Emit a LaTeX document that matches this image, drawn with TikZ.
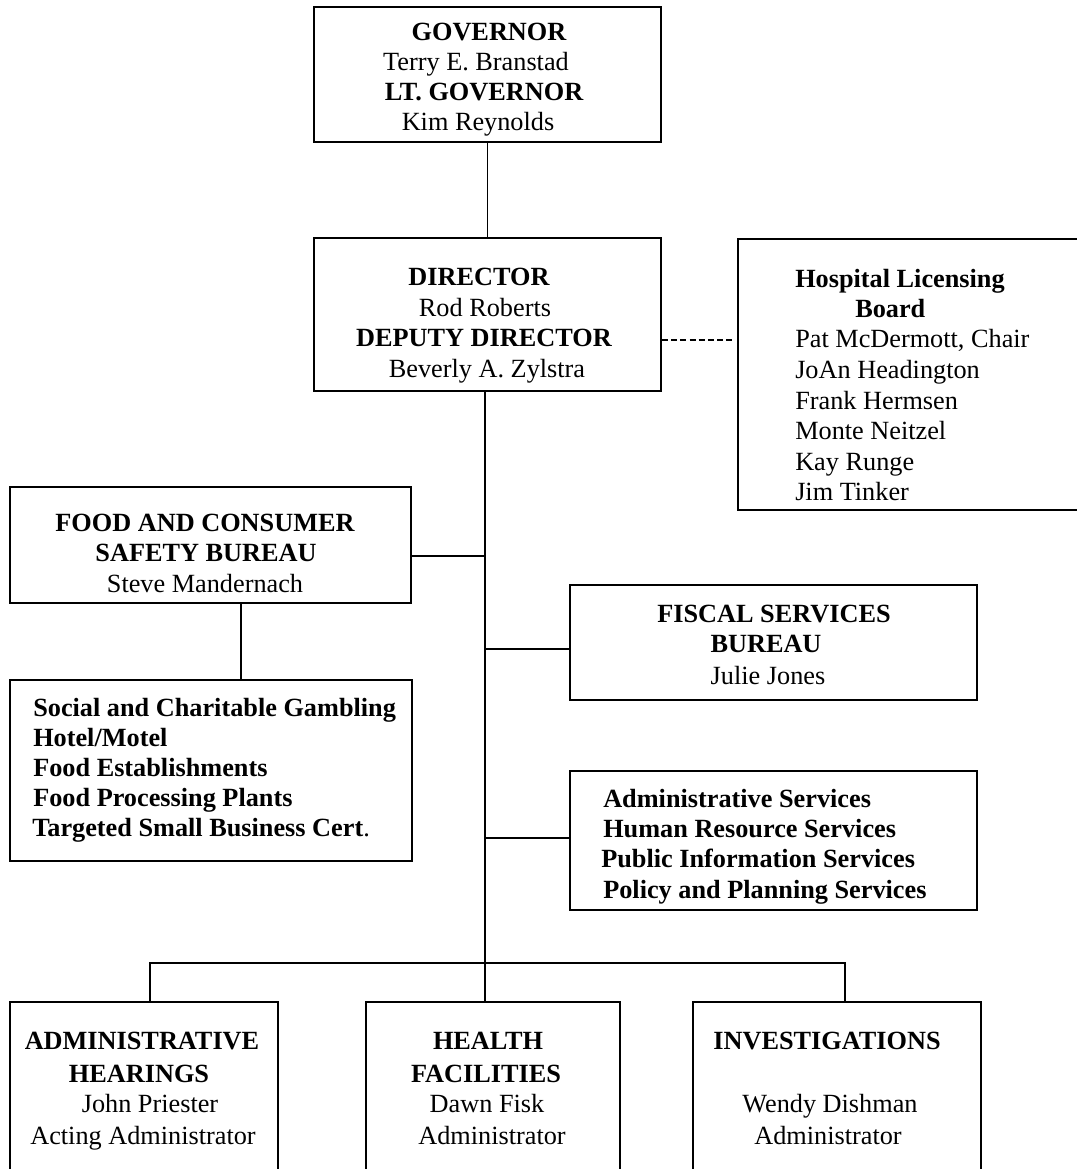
\documentclass[tikz,border=0pt]{standalone}
\usepackage{fontspec}
\setmainfont{Liberation Serif}
\usetikzlibrary{fit}
\newcommand\chartfont{\fontsize{19.7pt}{22.5pt}\selectfont}
\tikzset{
  box/.style={draw, line width=1.4pt, inner sep=0pt},
  conn/.style={line width=1.3pt},
  dashconn/.style={line width=1.8pt, dash pattern=on 4.5pt off 2.4pt},
  tc/.style={anchor=base, inner sep=0pt, font=\chartfont},
  tcb/.style={anchor=base, inner sep=0pt, font=\chartfont\bfseries},
  tl/.style={anchor=base west, inner sep=0pt, font=\chartfont},
  tlb/.style={anchor=base west, inner sep=0pt, font=\chartfont\bfseries},
}
\begin{document}
\begin{tikzpicture}[x=0.75pt, y=-0.75pt]
\useasboundingbox[fill=white] (0,0) rectangle (1076,1169);

% boxes
\node[box, fit={(314,7) (661,142)}] (gov) {};
\node[box, fit={(314,238) (661,391)}] (dir) {};
\node[box, fit={(738,239) (1095,510)}] (hosp) {};
\node[box, fit={(10,487) (411,603)}] (food) {};
\node[box, fit={(10,680) (412,861)}] (sub) {};
\node[box, fit={(570,585) (977,700)}] (fis) {};
\node[box, fit={(570,771) (977,910)}] (adm) {};
\node[box, fit={(10,1002) (278,1200)}] (ah) {};
\node[box, fit={(366,1002) (620,1200)}] (hf) {};
\node[box, fit={(693,1002) (981,1200)}] (inv) {};

% coordinates for connectors
\coordinate (spine) at (485,0);
\coordinate (fy) at (0,556);
\coordinate (fisy) at (0,649);
\coordinate (admy) at (0,838);
\coordinate (dy) at (0,340);
\coordinate (dend) at (733,340);
\coordinate (b1) at (150,963);
\coordinate (b3) at (845,963);
\coordinate (subx) at (241,0);

% connectors
\draw[conn] (gov.south) -- (dir.north);
\draw[conn] (dir.south -| spine) -- (hf.north -| spine);
\draw[dashconn] (dir.east |- dy) -- (dend);
\draw[conn] (food.east |- fy) -- (spine |- fy);
\draw[conn] (food.south -| subx) -- (sub.north -| subx);
\draw[conn] (spine |- fisy) -- (fis.west |- fisy);
\draw[conn] (spine |- admy) -- (adm.west |- admy);
\draw[conn] (ah.north -| b1) -- (b1) -- (b3) -- (inv.north -| b3);

% governor text
\node[tcb] (g1) at (489,41) {GOVERNOR};
\node[tc]  (g2) at (476,71) {Terry E. Branstad};
\node[tcb] (g3) at (484,101) {LT. GOVERNOR};
\node[tc]  (g4) at (478,131) {Kim Reynolds};

% director text
\node[tcb] (d1) at (479,286) {DIRECTOR};
\node[tc]  (d2) at (485,316) {Rod Roberts};
\node[tcb] (d3) at (484,346) {DEPUTY DIRECTOR};
\node[tc]  (d4) at (487,377) {Beverly A. Zylstra};

% hospital licensing board
\node[tlb] (h1) at (795,287) {Hospital Licensing};
\node[tlb] (h2) at (855,317) {Board};
\node[tl]  (h3) at (795,347) {Pat McDermott, Chair};
\node[tl]  (h4) at (795,378) {JoAn Headington};
\node[tl]  (h5) at (795,409) {Frank Hermsen};
\node[tl]  (h6) at (795,439) {Monte Neitzel};
\node[tl]  (h7) at (795,470) {Kay Runge};
\node[tl]  (h8) at (795,500) {Jim Tinker};

% food and consumer safety bureau
\node[tcb] (f1) at (205,531) {FOOD AND CONSUMER};
\node[tcb] (f2) at (206,561) {SAFETY BUREAU};
\node[tc]  (f3) at (205,592) {Steve Mandernach};

% sub list
\node[tlb] (s1) at (33,716) {Social and Charitable Gambling};
\node[tlb] (s2) at (33,746) {Hotel/Motel};
\node[tlb] (s3) at (33,776) {Food Establishments};
\node[tlb] (s4) at (33,806) {Food Processing Plants};
\node[tl]  (s5) at (32,836) {\bfseries Targeted Small Business Cert\mdseries.};

% fiscal services bureau
\node[tcb] (fs1) at (774,622) {FISCAL SERVICES};
\node[tcb] (fs2) at (766,652) {BUREAU};
\node[tc]  (fs3) at (768,684) {Julie Jones};

% administrative services
\node[tlb] (a1) at (603,807) {Administrative Services};
\node[tlb] (a2) at (603,837) {Human Resource Services};
\node[tlb] (a3) at (601,867) {Public Information Services};
\node[tlb] (a4) at (603,898) {Policy and Planning Services};

% administrative hearings
\node[tcb] (ah1) at (142,1049) {ADMINISTRATIVE};
\node[tcb] (ah2) at (139,1082) {HEARINGS};
\node[tc]  (ah3) at (150,1112) {John Priester};
\node[tc]  (ah4) at (143,1144) {Acting Administrator};

% health facilities
\node[tcb] (hf1) at (488,1049) {HEALTH};
\node[tcb] (hf2) at (486,1082) {FACILITIES};
\node[tc]  (hf3) at (487,1112) {Dawn Fisk};
\node[tc]  (hf4) at (492,1144) {Administrator};

% investigations
\node[tcb] (in1) at (827,1049) {INVESTIGATIONS};
\node[tc]  (in2) at (830,1112) {Wendy Dishman};
\node[tc]  (in3) at (828,1144) {Administrator};
\end{tikzpicture}
\end{document}
